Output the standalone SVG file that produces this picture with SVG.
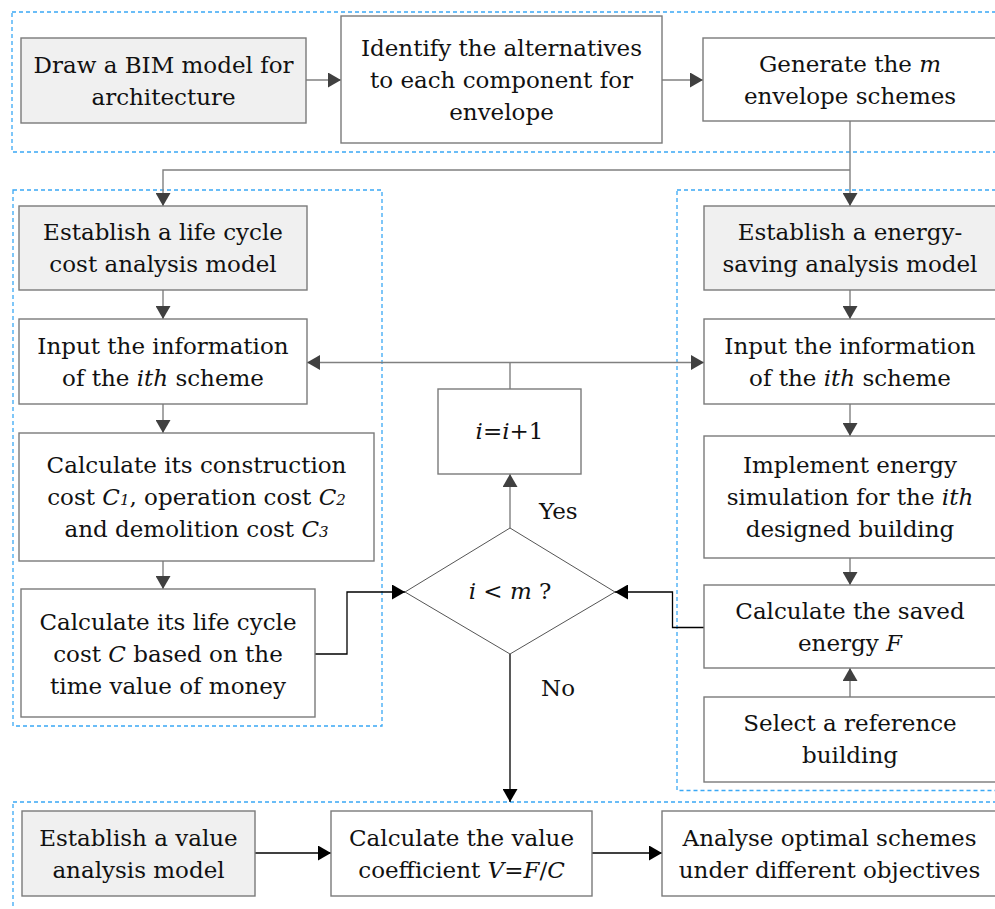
<svg xmlns="http://www.w3.org/2000/svg" width="995" height="909" viewBox="0 0 995 909">
<defs>
<marker id="ag" markerUnits="userSpaceOnUse" markerWidth="13" markerHeight="15" refX="13" refY="7.5" orient="auto" viewBox="0 0 13 15"><path d="M0,0 L13,7.5 L0,15 z" fill="#404040"/></marker>
<marker id="ab" markerUnits="userSpaceOnUse" markerWidth="13" markerHeight="15" refX="13" refY="7.5" orient="auto" viewBox="0 0 13 15"><path d="M0,0 L13,7.5 L0,15 z" fill="#000"/></marker>
</defs>
<style>
.grp{fill:none;stroke:#3aa8f5;stroke-width:1.3;stroke-dasharray:4 3}
.box{fill:#fff;stroke:#7a7a7a;stroke-width:1.4}
.gbox{fill:#f0f0f0;stroke:#7a7a7a;stroke-width:1.4}
text{font-family:"DejaVu Serif","Liberation Serif",serif;font-size:23px;fill:#111;text-anchor:middle}
.it{font-style:italic}
.sub{font-style:italic;font-size:15px}
.lg{fill:none;stroke:#808080;stroke-width:1.4;marker-end:url(#ag)}
.lgn{fill:none;stroke:#808080;stroke-width:1.4}
.lb{fill:none;stroke:#000;stroke-width:1.3;marker-end:url(#ab)}
.lbl{text-anchor:start}
</style>
<rect fill="#fff" x="0" y="0" width="995" height="909"/>
<g id="groups">
<rect class="grp" x="12" y="12" width="1000" height="140"/>
<rect class="grp" x="13" y="190" width="369" height="536"/>
<rect class="grp" x="677" y="190" width="340" height="600.5"/>
<rect class="grp" x="13" y="802" width="1000" height="130"/>
</g>
<g id="connectors">
<path class="lg" d="M306,80 H341"/>
<path class="lg" d="M662,80 H703"/>
<path class="lg" d="M850,121 V206"/>
<path class="lg" d="M850,170 H163 V206"/>
<path class="lg" d="M163,290 V319"/>
<path class="lg" d="M163,404 V433"/>
<path class="lg" d="M163,561 V589"/>
<path class="lb" d="M315,654 H347 V592 H405"/>
<path class="lg" d="M850,290 V319"/>
<path class="lg" d="M850,404 V436"/>
<path class="lg" d="M850,558 V585"/>
<path class="lg" d="M850,697 V668"/>
<path class="lb" d="M704,627.5 H672.5 V592 H615"/>
<path class="lg" d="M510,528 V474"/>
<path class="lgn" d="M510,389 V362.5"/>
<path class="lg" d="M510,362.5 H307"/>
<path class="lg" d="M510,362.5 H704"/>
<path class="lb" d="M510,654 V802"/>
<path class="lb" d="M255,853 H331"/>
<path class="lb" d="M592,853 H662"/>
</g>
<g id="n1"><rect class="gbox" x="21" y="38" width="285" height="85"/>
<text x="163.5" y="72.5">Draw a BIM model for</text><text x="163.5" y="104.5">architecture</text></g>
<g id="n2"><rect class="box" x="341" y="16" width="321" height="127"/>
<text x="501.5" y="56">Identify the alternatives</text><text x="501.5" y="88">to each component for</text><text x="501.5" y="120">envelope</text></g>
<g id="n3"><rect class="box" x="703" y="38" width="300" height="83"/>
<text x="850" y="71.5">Generate the <tspan class="it">m</tspan></text><text x="850" y="103.5">envelope schemes</text></g>
<g id="n4"><rect class="gbox" x="19" y="206" width="288" height="84"/>
<text x="163" y="240">Establish a life cycle</text><text x="163" y="272">cost analysis model</text></g>
<g id="n5"><rect class="box" x="19" y="319" width="288" height="85"/>
<text x="163" y="353.5">Input the information</text><text x="163" y="385.5">of the <tspan class="it">ith</tspan> scheme</text></g>
<g id="n6"><rect class="box" x="19" y="433" width="355" height="128"/>
<text x="196.5" y="473">Calculate its construction</text>
<text x="196.5" y="505">cost <tspan class="it">C</tspan><tspan class="sub">1</tspan>, operation cost <tspan class="it">C</tspan><tspan class="sub">2</tspan></text>
<text x="196.5" y="537">and demolition cost <tspan class="it">C</tspan><tspan class="sub">3</tspan></text></g>
<g id="n7"><rect class="box" x="21" y="589" width="294" height="128"/>
<text x="168" y="629.5">Calculate its life cycle</text><text x="168" y="661.5">cost <tspan class="it">C</tspan> based on the</text><text x="168" y="693.5">time value of money</text></g>
<g id="n8"><rect class="gbox" x="704" y="206" width="300" height="84"/>
<text x="850" y="240">Establish a energy-</text><text x="850" y="272">saving analysis model</text></g>
<g id="n9"><rect class="box" x="704" y="319" width="300" height="85"/>
<text x="850" y="353.5">Input the information</text><text x="850" y="385.5">of the <tspan class="it">ith</tspan> scheme</text></g>
<g id="n10"><rect class="box" x="704" y="436" width="300" height="122"/>
<text x="850" y="473">Implement energy</text><text x="850" y="505">simulation for the <tspan class="it">ith</tspan></text><text x="850" y="537">designed building</text></g>
<g id="n11"><rect class="box" x="704" y="585" width="300" height="83"/>
<text x="850" y="618.5">Calculate the saved</text><text x="850" y="650.5">energy <tspan class="it">F</tspan></text></g>
<g id="n12"><rect class="box" x="704" y="697" width="300" height="85"/>
<text x="850" y="731">Select a reference</text><text x="850" y="763">building</text></g>
<g id="n13"><rect class="box" x="438" y="389" width="143" height="85"/>
<text x="509.5" y="439"><tspan class="it">i</tspan>=<tspan class="it">i</tspan>+1</text></g>
<g id="n14"><polygon points="510,528 615,592 510,654 405,592" fill="#fff" stroke="#555" stroke-width="1"/>
<text x="510" y="599"><tspan class="it">i</tspan> &lt; <tspan class="it">m</tspan> ?</text></g>
<g id="labels">
<text class="lbl" x="539" y="519">Yes</text>
<text class="lbl" x="541" y="696">No</text>
</g>
<g id="n15"><rect class="gbox" x="22" y="811" width="233" height="85"/>
<text x="138.5" y="845.5">Establish a value</text><text x="138.5" y="877.5">analysis model</text></g>
<g id="n16"><rect class="box" x="331" y="811" width="261" height="85"/>
<text x="461.5" y="845.5">Calculate the value</text><text x="461.5" y="877.5">coefficient <tspan class="it">V</tspan>=<tspan class="it">F</tspan>/<tspan class="it">C</tspan></text></g>
<g id="n17"><rect class="box" x="662" y="811" width="340" height="85"/>
<text x="829.5" y="845.5">Analyse optimal schemes</text><text x="829.5" y="877.5">under different objectives</text></g>
</svg>
